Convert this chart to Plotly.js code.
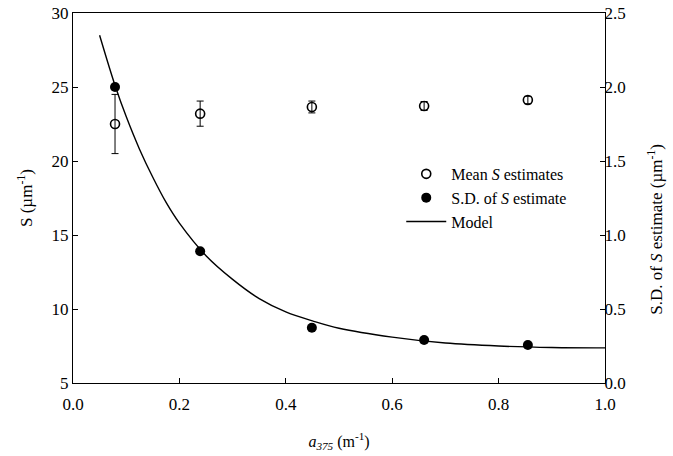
<!DOCTYPE html>
<html>
<head>
<meta charset="utf-8">
<script src="https://cdn.plot.ly/plotly-3.0.1.min.js"></script>
<style>html,body{margin:0;padding:0;background:#fff;}#chart{width:673px;height:456px;}</style>
</head>
<body>
<div id="chart"></div>
<script>
// Data
var absorption = [0.079, 0.239, 0.449, 0.660, 0.855];
var meanS = [22.5, 23.2, 23.65, 23.72, 24.12];
var meanSErr = [2.0, 0.85, 0.4, 0.3, 0.25];
var sdS = [2.0, 0.89, 0.373, 0.29, 0.257];
var modelX = [0.05, 0.08, 0.10, 0.125, 0.15, 0.175, 0.20, 0.25, 0.30, 0.35, 0.40, 0.45, 0.50, 0.60, 0.70, 0.80, 0.90, 1.00];
var modelY = [2.35, 2.00, 1.80, 1.58, 1.39, 1.22, 1.08, 0.86, 0.70, 0.57, 0.48, 0.42, 0.37, 0.31, 0.27, 0.25, 0.24, 0.237];
var xTicks = [0, 0.2, 0.4, 0.6, 0.8, 1.0];
var xTickText = ['0.0', '0.2', '0.4', '0.6', '0.8', '1.0'];
var leftTicks = [5, 10, 15, 20, 25, 30];
var rightTicks = [0, 0.5, 1.0, 1.5, 2.0, 2.5];
var rightTickText = ['0.0', '0.5', '1.0', '1.5', '2.0', '2.5'];

var font = '"Liberation Serif", "Times New Roman", serif';

var traces = [
  {
    x: absorption, y: meanS, type: 'scatter', mode: 'markers', name: 'Mean <i>S</i> estimates',
    marker: {symbol: 'circle-open', size: 9, color: '#000', line: {width: 1.6, color: '#000'}},
    error_y: {type: 'data', array: meanSErr, visible: true, color: '#000', thickness: 1, width: 3.5},
    yaxis: 'y'
  },
  {
    x: absorption, y: sdS, type: 'scatter', mode: 'markers', name: 'S.D. of <i>S</i> estimate',
    marker: {symbol: 'circle', size: 10, color: '#000'},
    yaxis: 'y2'
  },
  {
    x: modelX, y: modelY, type: 'scatter', mode: 'lines', name: 'Model',
    line: {color: '#000', width: 1.4, shape: 'spline', smoothing: 1},
    yaxis: 'y2'
  }
];

var layout = {
  width: 673, height: 456,
  margin: {l: 73, r: 68, t: 13, b: 73},
  paper_bgcolor: '#fff', plot_bgcolor: '#fff',
  font: {family: font, size: 17, color: '#000'},
  showlegend: true,
  legend: {x: 0.617, y: 0.611, xanchor: 'left', yanchor: 'top', bgcolor: 'rgba(0,0,0,0)',
           font: {family: font, size: 16, color: '#000'}, tracegroupgap: 0, itemwidth: 40},
  xaxis: {
    range: [0, 1.0], tickvals: xTicks, ticktext: xTickText,
    showgrid: false, zeroline: false, showline: true, linecolor: '#000', linewidth: 1,
    mirror: true, ticks: 'inside', ticklen: 5, tickcolor: '#000',
    tickfont: {family: font, size: 17}, ticklabelstandoff: 6,
    title: {text: '<i>a</i><sub><i>375</i></sub> (m<sup>-1</sup>)', font: {family: font, size: 16}, standoff: 22}
  },
  yaxis: {
    range: [5, 30], tickvals: leftTicks,
    showgrid: false, zeroline: false, showline: true, linecolor: '#000', linewidth: 1,
    ticks: 'inside', ticklen: 5, tickcolor: '#000',
    tickfont: {family: font, size: 17},
    title: {text: 'S (µm<sup>-1</sup>)', font: {family: font, size: 17}, standoff: 14}
  },
  yaxis2: {
    range: [0, 2.5], tickvals: rightTicks, ticktext: rightTickText,
    overlaying: 'y', side: 'right',
    showgrid: false, zeroline: false, showline: true, linecolor: '#000', linewidth: 1,
    ticks: 'inside', ticklen: 5, tickcolor: '#000',
    tickfont: {family: font, size: 17}, ticklabelstandoff: -5
  },
  annotations: [
    {text: 'S.D. of <i>S</i> estimate (µm<sup>-1</sup>)', xref: 'paper', yref: 'paper',
     x: 1.094, y: 0.414, xanchor: 'center', yanchor: 'middle', textangle: -90, showarrow: false,
     font: {family: font, size: 17, color: '#000'}}
  ]
};

Plotly.newPlot('chart', traces, layout, {displayModeBar: false, staticPlot: true});
</script>
</body>
</html>
